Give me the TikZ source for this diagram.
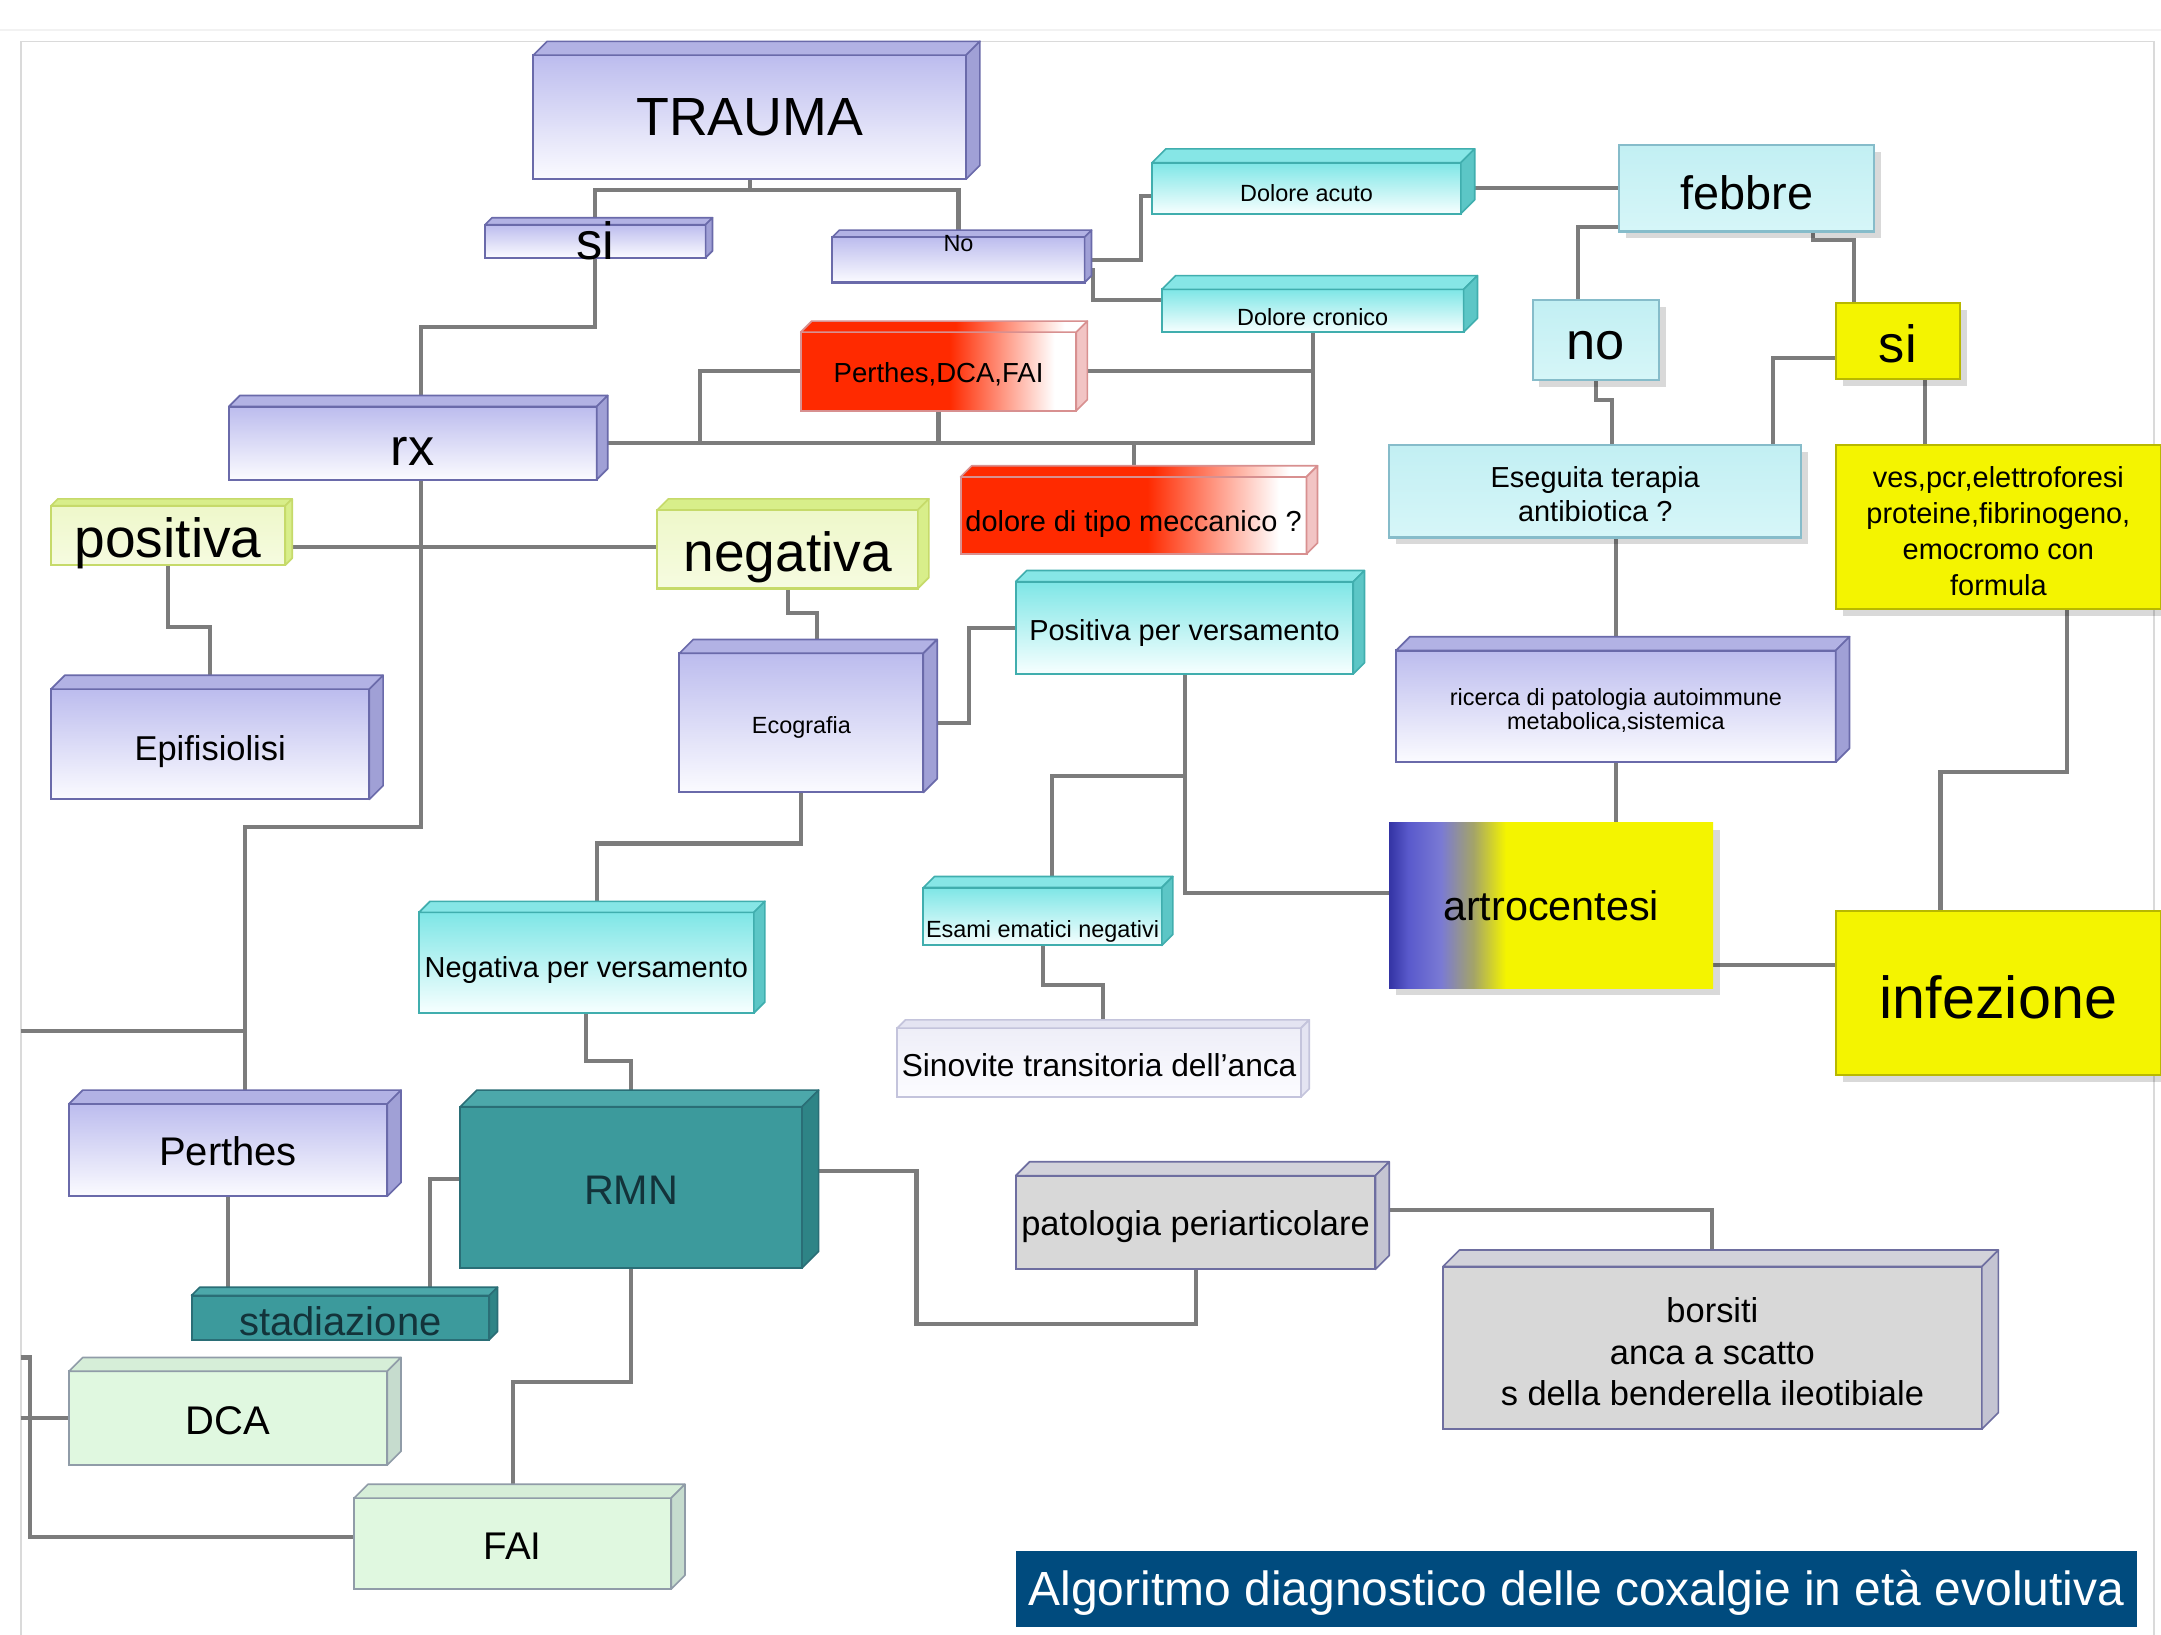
\documentclass[tikz,border=0pt]{standalone}
\usepackage{fontspec}
\setmainfont{Liberation Sans}
\definecolor{lavTop}{HTML}{BCBCEE}
\definecolor{lavBot}{HTML}{FBFBFF}
\definecolor{lavBd}{HTML}{6A6AAA}
\definecolor{lavBT}{HTML}{B2B2E4}
\definecolor{lavBS}{HTML}{A0A0D6}
\definecolor{cyTop}{HTML}{7EE6E6}
\definecolor{cyBot}{HTML}{F7FFFF}
\definecolor{cyBd}{HTML}{40AEAE}
\definecolor{cyBT}{HTML}{86E6E6}
\definecolor{cyBS}{HTML}{5CC6C6}
\definecolor{redA}{HTML}{FF2A00}
\definecolor{redBd}{HTML}{D89090}
\definecolor{redBS}{HTML}{F2C4C4}
\definecolor{lcyTop}{HTML}{C2EFF3}
\definecolor{lcyBot}{HTML}{D6F6F8}
\definecolor{lcyBd}{HTML}{86BCCA}
\definecolor{yelA}{HTML}{F4F400}
\definecolor{yelBd}{HTML}{B8B800}
\definecolor{ygTop}{HTML}{EEF8CA}
\definecolor{ygBot}{HTML}{F6FBE0}
\definecolor{ygBT}{HTML}{D8EE8A}
\definecolor{ygBd}{HTML}{C6DA6A}
\definecolor{tealA}{HTML}{3C9A9C}
\definecolor{tealBT}{HTML}{4CA8AA}
\definecolor{tealBS}{HTML}{2E8486}
\definecolor{tealBd}{HTML}{2A6E76}
\definecolor{tealTx}{HTML}{13333A}
\definecolor{grA}{HTML}{D8D8D8}
\definecolor{grBT}{HTML}{D2D2DA}
\definecolor{grBS}{HTML}{C4C4D2}
\definecolor{grBd}{HTML}{6E6EA0}
\definecolor{grnA}{HTML}{E0F8E0}
\definecolor{grnBT}{HTML}{D6EED8}
\definecolor{grnBS}{HTML}{C6DCCE}
\definecolor{grnBd}{HTML}{909CA8}
\definecolor{sinTop}{HTML}{EEEEF8}
\definecolor{sinBot}{HTML}{FCFCFF}
\definecolor{sinBT}{HTML}{E4E4F2}
\definecolor{sinBd}{HTML}{C4C4DC}
\definecolor{blueD}{HTML}{3434A4}
\definecolor{blueM}{HTML}{5A5ACC}
\definecolor{blueL}{HTML}{7A7AD4}
\definecolor{olivA}{HTML}{A4A468}
\definecolor{titleBg}{HTML}{004B7E}
\definecolor{connC}{HTML}{7C7C7C}
\definecolor{frameC}{HTML}{DADADA}
\pgfdeclarehorizontalshading{redfade}{100bp}{color(0bp)=(redA); color(25bp)=(redA); color(52bp)=(redA); color(71bp)=(white); color(100bp)=(white)}
\pgfdeclarehorizontalshading{artfade}{100bp}{color(0bp)=(blueD); color(25bp)=(blueD); color(28bp)=(blueM); color(33bp)=(blueL); color(38bp)=(olivA); color(43bp)=(yelA); color(100bp)=(yelA)}
\pgfdeclarelayer{connl}
\pgfsetlayers{connl,main}
\newcommand\fz[2]{\fontsize{#1}{#2}\selectfont}
\newcommand\cubebox[9]{%
  \node[#1F,anchor=north west,minimum width={(#5-#3-#7)*0.5pt},minimum height={(#6-#4-#7)*0.5pt}] (#2) at (#3,#4+#7) {};
  \path[#1T] (#2.north west) -- ++(#7,-#7) -- ([shift={(#7,-#7)}]#2.north east) -- (#2.north east) -- cycle;
  \path[#1S] (#2.north east) -- ++(#7,-#7) -- ([shift={(#7,-#7)}]#2.south east) -- (#2.south east) -- cycle;
  \node[tx,#8] (#2-t) at (#2.center) {#9};}
\newcommand\flatbox[8]{%
  \fill[shadowc] (#3+5,#4+5) rectangle (#5+5,#6+5);
  \node[#1Fl,anchor=north west,minimum width={(#5-#3)*0.5pt},minimum height={(#6-#4)*0.5pt}] (#2) at (#3,#4) {};
  \node[tx,#7] (#2-t) at (#2.center) {#8};}
\tikzset{
  bx/.style={inner sep=0pt, outer sep=0pt, line width=0.75pt},
  tx/.style={inner sep=0pt, align=center, text=black},
  bev/.style={line width=0.6pt, line join=round},
  shadowc/.style={fill=black, opacity=0.15},
  conn/.style={draw=connC, line width=1.5pt},
  framel/.style={draw=frameC, line width=0.6pt},
  lavF/.style={bx, draw=lavBd, top color=lavTop, bottom color=lavBot},
  lavT/.style={bev, fill=lavBT, draw=lavBd},
  lavS/.style={bev, fill=lavBS, draw=lavBd},
  cyF/.style={bx, draw=cyBd, top color=cyTop, bottom color=cyBot},
  cyT/.style={bev, fill=cyBT, draw=cyBd},
  cyS/.style={bev, fill=cyBS, draw=cyBd},
  redF/.style={bx, draw=redBd, shade, shading=redfade},
  redT/.style={bev, shade, shading=redfade, draw=redBd},
  redS/.style={bev, fill=redBS, draw=redBd},
  ygF/.style={bx, draw=ygBd, top color=ygTop, bottom color=ygBot},
  ygT/.style={bev, fill=ygBT, draw=ygBd},
  ygS/.style={bev, fill=ygBT, draw=ygBd},
  tealF/.style={bx, draw=tealBd, fill=tealA},
  tealT/.style={bev, fill=tealBT, draw=tealBd},
  tealS/.style={bev, fill=tealBS, draw=tealBd},
  grF/.style={bx, draw=grBd, fill=grA},
  grT/.style={bev, fill=grBT, draw=grBd},
  grS/.style={bev, fill=grBS, draw=grBd},
  grnF/.style={bx, draw=grnBd, fill=grnA},
  grnT/.style={bev, fill=grnBT, draw=grnBd},
  grnS/.style={bev, fill=grnBS, draw=grnBd},
  sinvF/.style={bx, draw=sinBd, top color=sinTop, bottom color=sinBot},
  sinvT/.style={bev, fill=sinBT, draw=sinBd},
  sinvS/.style={bev, fill=sinBT, draw=sinBd},
  lcyFl/.style={bx, draw=lcyBd, top color=lcyTop, bottom color=lcyBot},
  yelFl/.style={bx, draw=yelBd, fill=yelA},
  artFl/.style={bx, draw=none, shade, shading=artfade},
}
\begin{document}
\begin{tikzpicture}[x=0.5pt,y=-0.5pt]
\useasboundingbox (0,0) rectangle (1568,1186);
% boxes
\cubebox{lav}{trauma}{387}{30}{711}{130}{10}{font=\fz{19.5pt}{23pt}}{TRAUMA}
\cubebox{lav}{tsi}{352}{158}{517}{187}{5}{font=\fz{19pt}{22pt}}{si}
\cubebox{lav}{tno}{604}{167}{792}{205}{5}{font=\fz{8.5pt}{10pt}, yshift=5.75pt}{No}
\cubebox{cy}{dacuto}{836}{108}{1070}{155}{10}{font=\fz{8.5pt}{10pt}, yshift=-1.75pt}{Dolore acuto}
\cubebox{cy}{dcron}{843}{200}{1072}{241}{10}{font=\fz{8.5pt}{10pt}, yshift=-2.25pt}{Dolore cronico}
\flatbox{lcy}{febbre}{1175}{105}{1360}{168}{font=\fz{17pt}{20pt}, yshift=-1.75pt}{febbre}
\flatbox{lcy}{nofeb}{1112}{218}{1204}{276}{font=\fz{19pt}{22pt}, yshift=-2pt}{no}
\flatbox{yel}{sifeb}{1332}{220}{1422}{275}{font=\fz{19pt}{22pt}, yshift=-1pt}{si}
\cubebox{red}{pdf}{581}{233}{789}{298}{8}{font=\fz{10pt}{12pt}, yshift=-1pt}{Perthes,DCA,FAI}
\cubebox{lav}{rx}{166}{287}{441}{348}{8}{font=\fz{19pt}{22pt}, yshift=-3pt}{rx}
\cubebox{red}{mecc}{697}{338}{956}{402}{8}{font=\fz{10.5pt}{12pt}, yshift=-3pt}{dolore di tipo meccanico ?}
\flatbox{lcy}{eseg}{1008}{323}{1307}{390}{font=\fz{10.5pt}{12.5pt}, yshift=-1pt}{Eseguita terapia\\antibiotica ?}
\flatbox{yel}{yel}{1332}{323}{1568}{442}{font=\fz{10.5pt}{13pt}, yshift=-1.5pt}{ves,pcr,elettroforesi\\proteine,fibrinogeno,\\emocromo con\\formula}
\cubebox{yg}{pos}{37}{362}{212}{410}{5}{font=\fz{20pt}{24pt}, yshift=-3pt}{positiva}
\cubebox{yg}{neg}{477}{362}{674}{427}{8}{font=\fz{20pt}{24pt}, yshift=-3pt}{negativa}
\cubebox{cy}{pv}{737}{414}{990}{489}{8}{font=\fz{10.5pt}{12pt}, yshift=-2pt}{Positiva per versamento}
\cubebox{lav}{eco}{493}{464}{680}{575}{10}{font=\fz{8.5pt}{10pt}, yshift=-1.75pt}{Ecografia}
\cubebox{lav}{epi}{37}{490}{278}{580}{10}{font=\fz{12.5pt}{15pt}, yshift=-2.5pt}{Epifisiolisi}
\cubebox{lav}{ric}{1013}{462}{1342}{553}{10}{font=\fz{8.5pt}{9pt}, yshift=-1.5pt}{ricerca di patologia autoimmune\\metabolica,sistemica}
\flatbox{art}{artro}{1008}{597}{1243}{717}{font=\fz{15pt}{18pt}}{artrocentesi}
\flatbox{yel}{inf}{1332}{661}{1568}{780}{font=\fz{21.5pt}{25pt}, yshift=-1.5pt}{infezione}
\cubebox{cy}{esami}{670}{636}{851}{686}{8}{font=\fz{8.5pt}{10pt}, yshift=-5.5pt}{Esami ematici negativi}
\cubebox{cy}{nv}{304}{654}{555}{735}{8}{font=\fz{10.5pt}{12pt}, yshift=-2.5pt}{Negativa per versamento}
\cubebox{sinv}{sin}{651}{740}{950}{796}{6}{font=\fz{11.5pt}{14pt}, yshift=-1pt}{Sinovite transitoria dell'anca}
\cubebox{lav}{perthes}{50}{791}{291}{868}{10}{font=\fz{14.5pt}{17pt}, yshift=-0.5pt}{Perthes}
\cubebox{teal}{rmn}{334}{791}{594}{920}{12}{font=\fz{15pt}{18pt}, text=tealTx, yshift=-1pt}{RMN}
\cubebox{gr}{pat}{737}{843}{1008}{921}{10}{font=\fz{12.5pt}{15pt}, yshift=-1.5pt}{patologia periarticolare}
\cubebox{teal}{stad}{139}{934}{361}{972}{6}{font=\fz{14.5pt}{17pt}, text=tealTx, yshift=-1.5pt}{stadiazione}
\cubebox{gr}{bors}{1047}{907}{1450}{1037}{12}{font=\fz{12.5pt}{15pt}, yshift=-1.5pt}{borsiti\\anca a scatto\\s della benderella ileotibiale}
\cubebox{grn}{dca}{50}{985}{291}{1063}{10}{font=\fz{14.5pt}{17pt}, yshift=-1pt}{DCA}
\cubebox{grn}{fai}{257}{1077}{497}{1153}{10}{font=\fz{14pt}{17pt}, yshift=-1pt}{FAI}
\node[fill=titleBg, inner sep=0pt, anchor=north west, minimum width=406.5pt, minimum height=27.5pt] (title) at (737,1125) {};
\node[tx, text=white, font=\fz{17.4pt}{20pt}, yshift=-1.5pt] (title-t) at (title.center) {Algoritmo diagnostico delle coxalgie in età evolutiva};
% connectors
\begin{pgfonlayer}{connl}
\fill[white] (0,0) rectangle (1568,1186);
\draw[framel, draw=black!5] (0,22) -- (1568,22);
\draw[framel] (15,1186) -- (15,30) -- (1563,30) -- (1563,1186);
\draw[conn] (trauma.south) -- ++(0,8) coordinate (tj) -| (tsi.north);
\draw[conn] (tj) -| (tno.north);
\draw[conn] (tsi.south) -- ++(0,50) -| ([xshift=3pt]rx.north);
\draw[conn] ([xshift=3pt]rx.south) -- ++(0,49) coordinate (pj);
\draw[conn] (pos.east |- pj) -- (neg.west |- pj);
\draw[conn] (pj) -- ++(0,203) -| ([xshift=6.25pt]perthes.north);
\coordinate (lj) at (15,748);
\draw[conn] (lj) -| ([xshift=6.25pt]perthes.north);
\coordinate (lk) at (15,985);
\draw[conn] (lk) -- ++(7,0) |- ([yshift=2.5pt]fai.west);
\coordinate (ll) at (15,1029);
\draw[conn] (ll) -- (dca.west);
\draw[conn] (rx.east) -| (dcron.south);
\draw[conn] ([xshift=37.5pt]rx.east) |- (pdf.west);
\draw[conn] (pdf.south) -- (pdf.south |- rx.east);
\draw[conn] (mecc.north) -- (mecc.north |- rx.east);
\draw[conn] (pdf.east) -- (pdf.east -| dcron.south);
\draw[conn] (tno.east) -- ++(41,0) |- ([yshift=-3pt]dacuto.west);
\draw[conn] ([xshift=3pt,yshift=-3pt]tno.east) |- ([yshift=4pt]dcron.west);
\draw[conn] (dacuto.east) -- (febbre.west);
\draw[conn] ([yshift=-14pt]febbre.west) -| ([xshift=-6.5pt]nofeb.north);
\draw[conn] ([xshift=24pt]febbre.south) -- ++(0,6) -| ([xshift=-16pt]sifeb.north);
\draw[conn] (nofeb.south) -- ++(0,14) -| ([xshift=6pt]eseg.north);
\draw[conn] ([yshift=-6pt]sifeb.west) -| ([xshift=64.5pt]eseg.north);
\draw[conn] ([xshift=10pt]sifeb.south) -- ([xshift=-26.5pt]yel.north);
\draw[conn] ([xshift=7.5pt]eseg.south) -- (ric.north);
\draw[conn] (ric.south) -- (ric.south |- artro.north);
\draw[conn] ([xshift=25pt]yel.south) -- ++(0,118) -| ([xshift=-21pt]inf.north);
\draw[conn] ([yshift=-21.5pt]artro.east) -- ++(89,0);
\draw[conn] (pos.south) -- ++(0,45) -| (epi.north);
\draw[conn] (neg.south) -- ++(0,18) -| ([xshift=5.75pt]eco.north);
\draw[conn] (eco.east) -- ++(33,0) |- (pv.west);
\draw[conn] (eco.south) -- ++(0,37) -| ([xshift=3.75pt]nv.north);
\draw[conn] (nv.south) -- ++(0,35) -| (rmn.north);
\draw[conn] (pv.south) -- ++(0,74) coordinate (pvj) -| ([xshift=3.25pt]esami.north);
\draw[conn] (pvj) |- ([yshift=4.5pt]artro.west);
\draw[conn] (esami.south) -- ++(0,29) -| ([xshift=1.5pt]sin.north);
\draw[conn] (perthes.south) -- (perthes.south |- stad.north);
\draw[conn] ([yshift=3pt]rmn.west) -| ([xshift=32.5pt]stad.north);
\draw[conn] ([yshift=6pt]rmn.east) -- ++(83,0) -- ++(0,111) -| (pat.south);
\draw[conn] ([yshift=4.5pt]pat.east) -| (bors.north);
\draw[conn] (rmn.south) -- ++(0,83) -| (fai.north);
\end{pgfonlayer}
\end{tikzpicture}
\end{document}
